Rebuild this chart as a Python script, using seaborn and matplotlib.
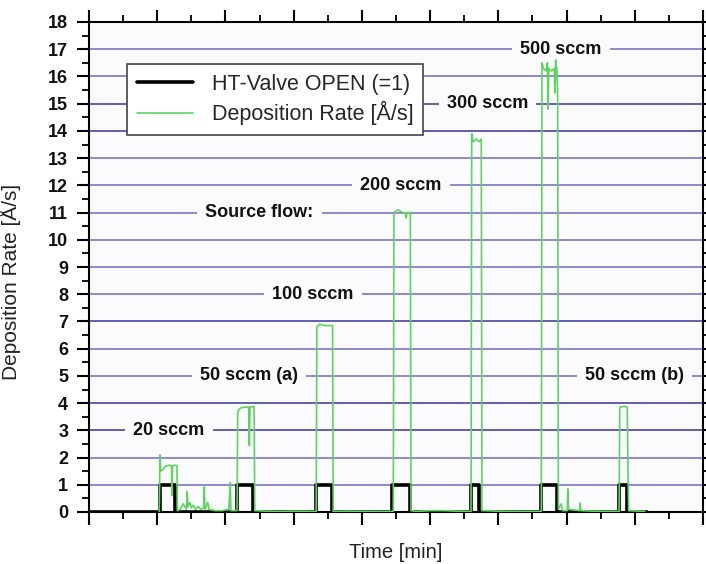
import numpy as np
import pandas as pd
import matplotlib
matplotlib.use("Agg")
import matplotlib.pyplot as plt
from matplotlib.ticker import MultipleLocator, NullFormatter
from matplotlib.lines import Line2D
import seaborn as sns

# ---------------- data ----------------
valve_on = [10.4, 21.7, 33.3, 44.4, 56.0, 66.3, 77.7]
valve_off = [12.6, 24.0, 35.6, 47.1, 57.2, 68.6, 78.9]
valve_end = 81.8

rate_t = [10.3, 10.4, 10.5, 10.8, 11.1, 11.4, 11.8, 12.1, 12.15, 12.25, 12.7, 12.9,
          12.95, 13.4, 13.8, 14.3, 14.4, 14.5, 14.8, 15.0, 15.3, 15.6, 16.0, 16.4,
          16.8, 16.9, 17.0, 17.4, 17.6, 18.5, 19.5, 20.5, 20.7, 20.8, 21.7, 21.8,
          22.2, 22.8, 23.4, 23.5, 23.6, 24.2, 24.3, 26.0, 28.0, 30.0, 33.3, 33.4,
          33.8, 34.5, 35.7, 35.8, 38.0, 41.0, 44.6, 44.7, 45.3, 46.0, 46.4, 46.5,
          46.6, 47.1, 47.2, 48.0, 50.0, 52.0, 54.0, 56.0, 56.1, 56.3, 56.8, 57.2,
          57.5, 57.6, 60.0, 63.0, 66.3, 66.4, 66.6, 67.0, 67.2, 67.3, 67.4, 67.8,
          68.2, 68.3, 68.4, 68.6, 68.7, 68.8, 69.2, 69.4, 70.1, 70.2, 70.3, 71.9,
          72.0, 72.1, 74.0, 77.7, 77.8, 78.5, 78.9, 79.0, 79.1, 81.5]
rate_v = [0.0, 2.1, 1.5, 1.55, 1.65, 1.7, 1.72, 1.7, 0.6, 1.7, 1.72, 1.7,
          0.05, 0.1, 0.3, 0.1, 0.75, 0.2, 0.35, 0.15, 0.25, 0.1, 0.2, 0.1,
          0.15, 0.92, 0.1, 0.35, 0.1, 0.05, 0.05, 0.1, 1.1, 0.05, 0.05, 3.7,
          3.82, 3.85, 3.85, 2.45, 3.85, 3.88, 0.05, 0.03, 0.02, 0.03, 0.02, 6.8,
          6.9, 6.85, 6.85, 0.02, 0.03, 0.02, 0.02, 11.0, 11.1, 11.0, 10.95, 10.8,
          11.0, 11.0, 0.05, 0.02, 0.05, 0.05, 0.03, 0.02, 13.9, 13.6, 13.7, 13.6,
          13.7, 0.05, 0.03, 0.02, 0.02, 16.5, 16.3, 16.2, 16.5, 14.8, 16.3, 16.2,
          16.3, 15.4, 16.6, 16.2, 15.3, 0.1, 0.3, 0.05, 0.05, 0.85, 0.1, 0.05,
          0.33, 0.05, 0.03, 0.02, 3.85, 3.88, 3.85, 1.6, 0.05, 0.02]

flow_labels = ["20 sccm", "50 sccm (a)", "100 sccm", "Source flow:", "200 sccm",
               "300 sccm", "500 sccm", "50 sccm (b)"]
flow_label_t = [11.7, 23.4, 32.8, 25.0, 45.7, 58.4, 69.2, 80.0]
flow_label_y = [3, 5, 8, 11, 12, 15, 17, 5]

series_names = ["HT-Valve OPEN (=1)", "Deposition Rate [Å/s]"]

# ---------------- build tables ----------------
vt, vv = [0.0], [0.0]
for on, off in zip(valve_on, valve_off):
    vt += [on, on, off, off]
    vv += [0, 1, 1, 0]
vt.append(valve_end)
vv.append(0)
valve_df = pd.DataFrame({"t": vt, "v": vv, "order": range(len(vt))})
rate_df = pd.DataFrame({"t": rate_t, "v": rate_v, "order": range(len(rate_t))})

# ---------------- style ----------------
sns.set_theme(style="ticks")
plt.rcParams["font.family"] = ["Liberation Sans", "DejaVu Sans"]

fig = plt.figure(figsize=(7.06, 5.64), dpi=100)
ax = fig.add_axes([89 / 706, 52 / 564, 614 / 706, 490 / 564])
ax.set_facecolor("#fbfbfd")

# gridlines
dark = {3, 4, 7, 14, 15}
for yv in range(1, 18):
    ax.axhline(yv, color="#5553a8" if yv in dark else "#8381c8", lw=1.3, zorder=1)

green = "#5fd35f"
sns.lineplot(data=valve_df, x="t", y="v", sort=False, estimator=None, ax=ax,
             color="black", lw=2.6, zorder=3)
sns.lineplot(data=rate_df, x="t", y="v", sort=False, estimator=None, ax=ax,
             color=green, lw=1.2, zorder=4)

# annotations
for txt, tx, ty in zip(flow_labels, flow_label_t, flow_label_y):
    ax.text(tx, ty, txt, ha="center", va="center", fontsize=13, fontweight="bold",
            color="#111111", zorder=2,
            bbox=dict(boxstyle="square,pad=0.45", fc="#fbfbfd", ec="none"))

ax.set_xlim(0, 90)
ax.set_ylim(0, 18)
ax.xaxis.set_major_locator(MultipleLocator(10))
ax.xaxis.set_minor_locator(MultipleLocator(5))
ax.yaxis.set_major_locator(MultipleLocator(1))
ax.yaxis.set_minor_locator(MultipleLocator(0.5))
ax.xaxis.set_major_formatter(NullFormatter())
ax.tick_params(axis="both", which="major", direction="out", length=9, width=1.5,
               color="black", top=True, right=True)
ax.tick_params(axis="both", which="minor", direction="out", length=5, width=1.3,
               color="black", top=True, right=True)
ax.tick_params(axis="y", labelsize=13, pad=6, labelcolor="#111111")
for lab in ax.get_yticklabels():
    lab.set_fontweight("bold")
for sp in ax.spines.values():
    sp.set_visible(True)
    sp.set_linewidth(1.5)
    sp.set_color("black")

ax.set_xlabel("Time [min]", fontsize=14.5, color="#222222")
ax.set_ylabel("Deposition Rate [Å/s]", fontsize=15, color="#222222")
ax.xaxis.set_label_coords(0.5, -0.064)
ax.yaxis.set_label_coords(-0.11, 0.47)

handles = [Line2D([], [], color="black", lw=2.6), Line2D([], [], color=green, lw=1.2)]
leg = ax.legend(handles, series_names, loc="upper left", bbox_to_anchor=(0.062, 0.914),
                borderaxespad=0, fontsize=15.5, frameon=True, fancybox=False,
                handlelength=2.6, handletextpad=0.9, labelspacing=0.3,
                borderpad=0.45)
leg.get_frame().set_edgecolor("#444444")
leg.get_frame().set_linewidth(1.2)
leg.get_frame().set_facecolor("white")
leg.get_frame().set_alpha(1)
leg.set_zorder(5)

fig.savefig("out.png", dpi=100, facecolor="white")
